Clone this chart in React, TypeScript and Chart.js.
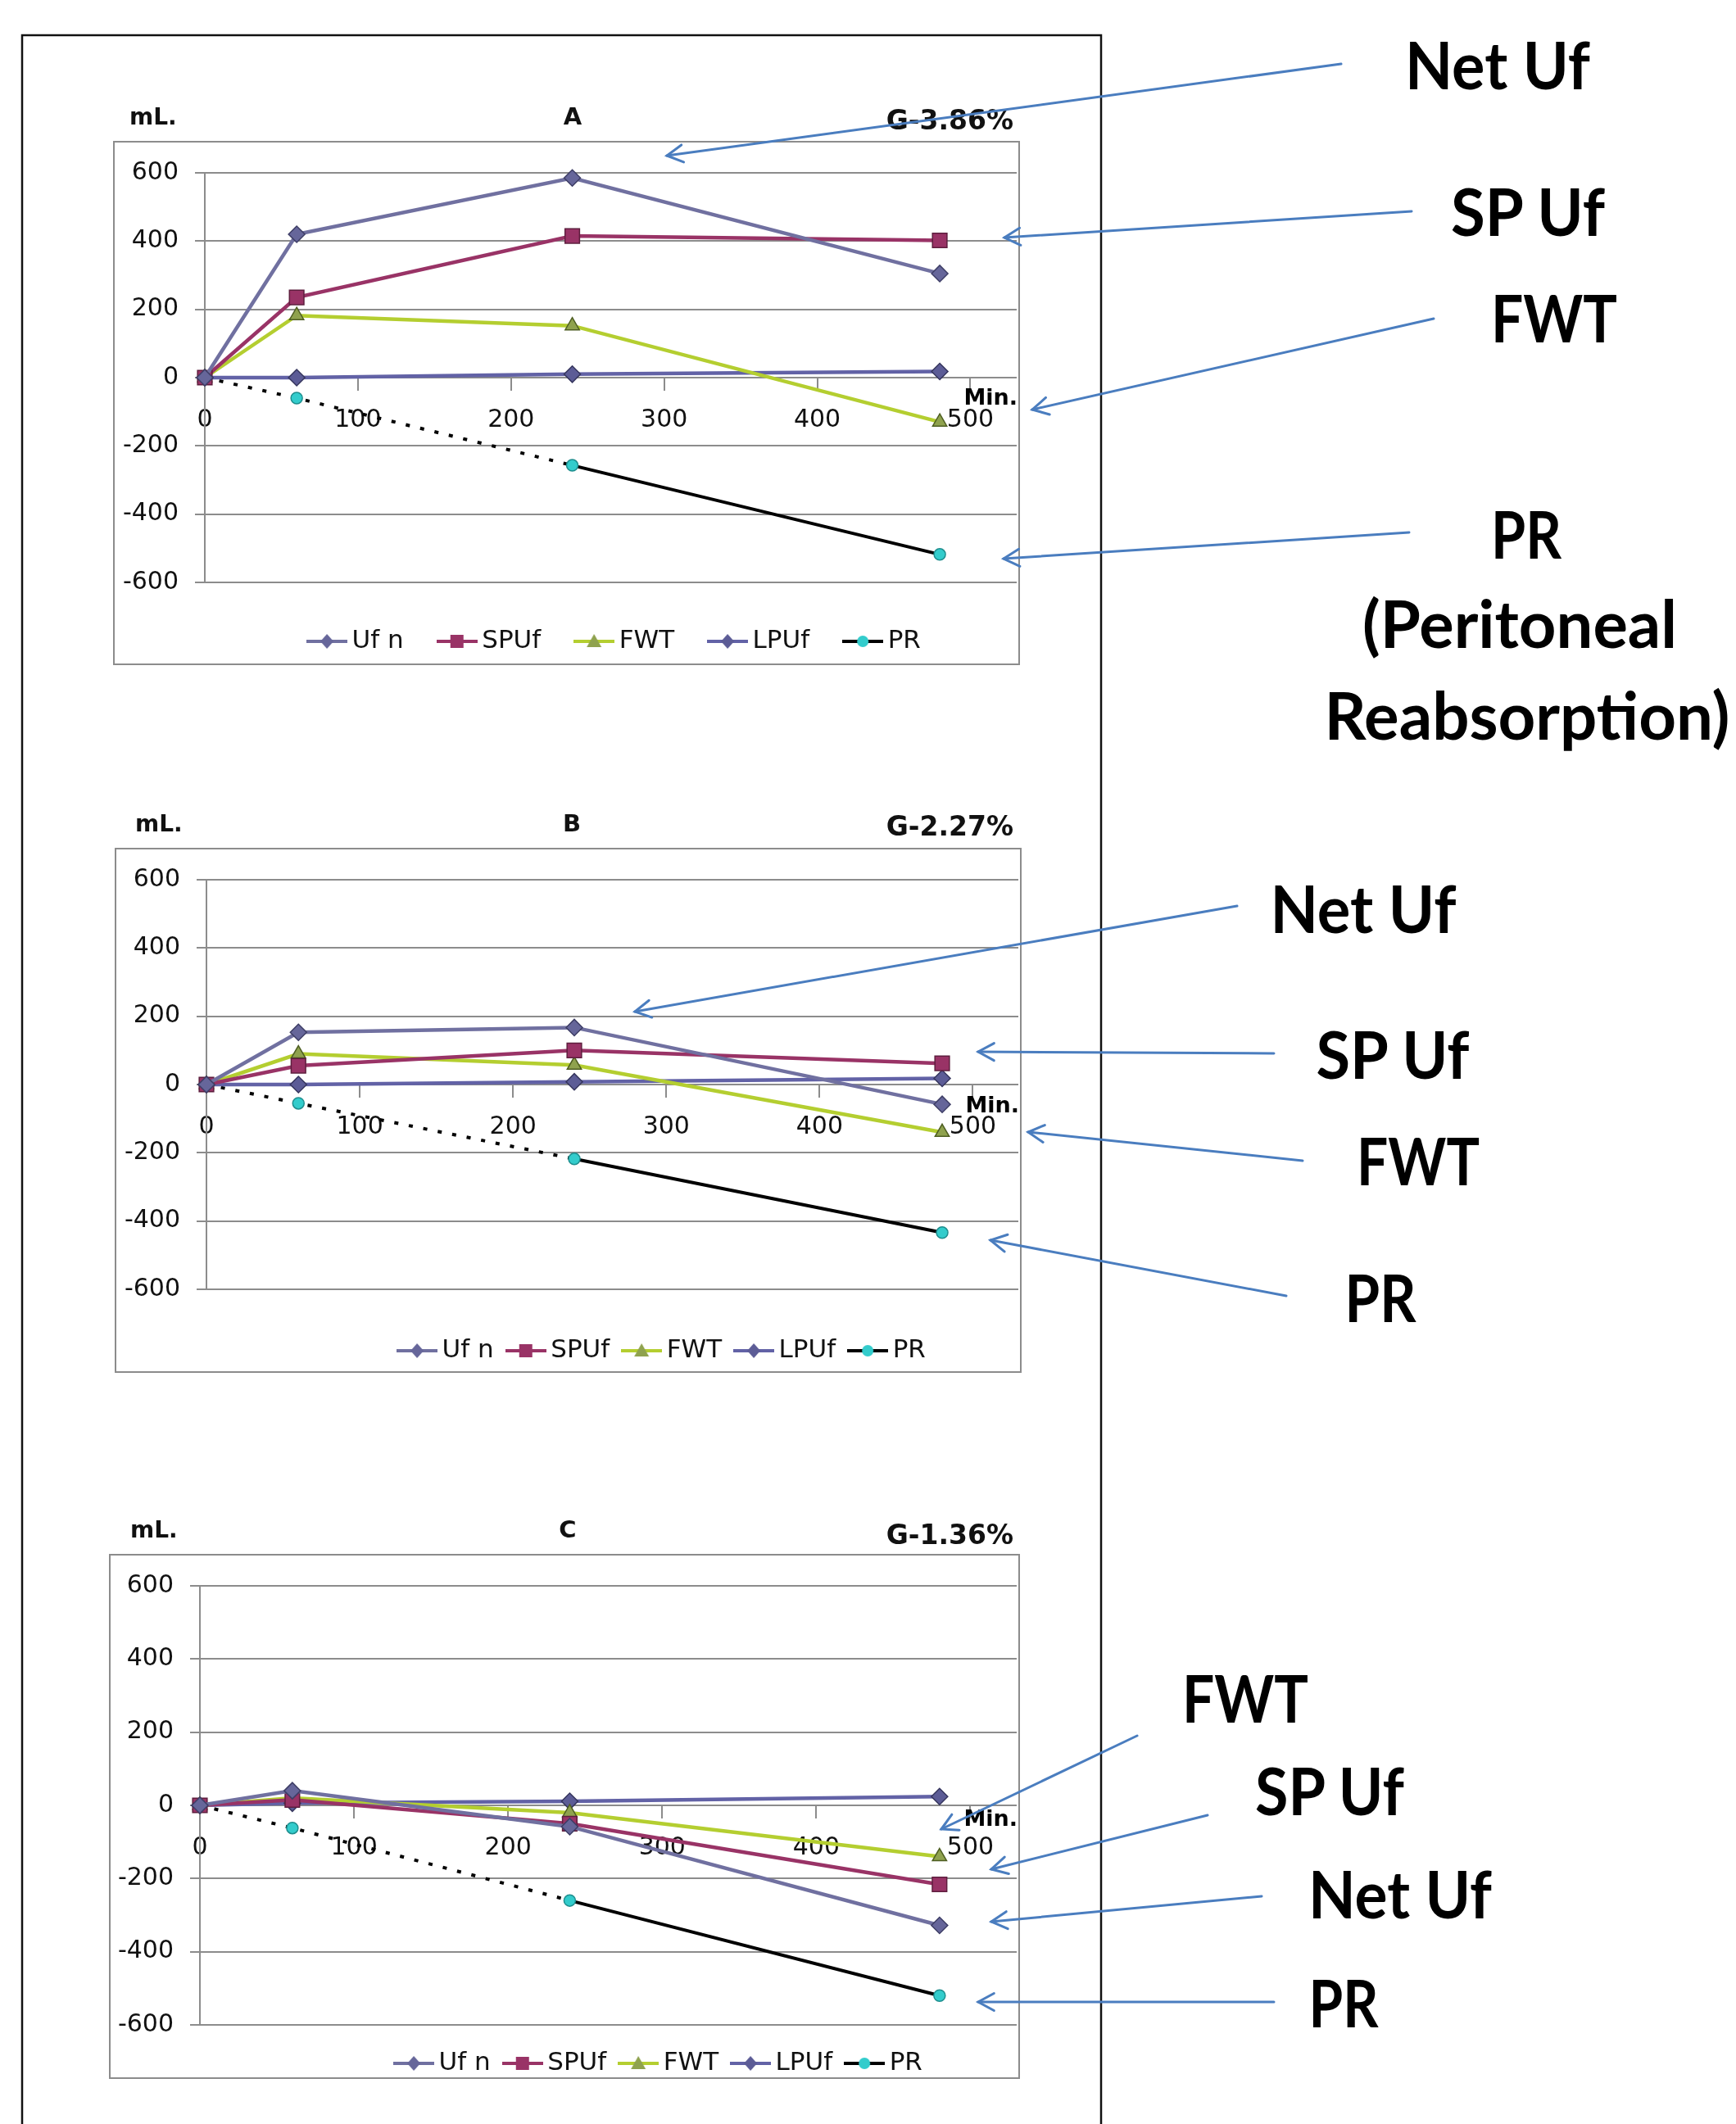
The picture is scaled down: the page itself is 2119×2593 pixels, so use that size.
import React, { useEffect, useRef } from 'react';
import { Chart, registerables } from 'chart.js';

Chart.register(...registerables);

// ---------- data ----------
const minutes = [0, 60, 240, 480];
const seriesLabels = ['Uf n', 'SPUf', 'FWT', 'LPUf', 'PR'];
const yTicks = [-600, -400, -200, 0, 200, 400, 600];
const xTicks = [0, 100, 200, 300, 400, 500];

// Panel A  (G-3.86%)
const ufnA = [0, 420, 585, 305];
const spufA = [0, 235, 415, 402];
const fwtA = [0, 182, 152, -130];
const lpufA = [0, 0, 10, 18];
const prA = [0, -60, -257, -518];

// Panel B  (G-2.27%)
const ufnB = [0, 153, 167, -58];
const spufB = [0, 55, 100, 62];
const fwtB = [0, 90, 57, -140];
const lpufB = [0, 0, 8, 18];
const prB = [0, -55, -218, -434];

// Panel C  (G-1.36%)
const ufnC = [0, 40, -58, -328];
const spufC = [0, 15, -50, -216];
const fwtC = [0, 20, -20, -140];
const lpufC = [0, 6, 11, 24];
const prC = [0, -62, -260, -520];

// ---------- styles ----------
const seriesColors = ['#7070A0', '#993366', '#B4CE30', '#6262A6', '#000000'];
const markerColors = ['#66669A', '#993366', '#8FA24E', '#5C5C96', '#33CCCC'];
const markerBorders = ['#3E3E66', '#5E1E3E', '#4E5E22', '#36365E', '#1E8E8E'];
const markerStyles = ['rectRot', 'rect', 'triangle', 'rectRot', 'circle'];
const markerRadii = [10, 12.5, 10, 10, 7];
const lineWidths = [4.5, 4.5, 4.5, 4.5, 4];

type Panel = {
  letter: string;
  conc: string;
  values: number[][];
  box: number[];
  axisX: number;
  x500: number;
  yTop: number;
  yBottom: number;
  legendY: number;
  legendCX: number;
  legendPad: number;
  minDy: number;
  titleBase: number;
  concBase: number;
  mlX: number;
  letterX: number;
};

const panels: Panel[] = [
  {
    letter: 'A', conc: 'G-3.86%', values: [ufnA, spufA, fwtA, lpufA, prA],
    box: [139, 173, 1244, 811], axisX: 250, x500: 1192, yTop: 208, yBottom: 711,
    legendY: 783, legendCX: 754, legendPad: 50, minDy: 13,
    titleBase: 152, concBase: 158, mlX: 158, letterX: 699,
  },
  {
    letter: 'B', conc: 'G-2.27%', values: [ufnB, spufB, fwtB, lpufB, prB],
    box: [141, 1036, 1246, 1675], axisX: 252, x500: 1195, yTop: 1069, yBottom: 1574,
    legendY: 1649, legendCX: 812, legendPad: 24, minDy: 14,
    titleBase: 1015, concBase: 1020, mlX: 165, letterX: 698,
  },
  {
    letter: 'C', conc: 'G-1.36%', values: [ufnC, spufC, fwtC, lpufC, prC],
    box: [134, 1898, 1244, 2537], axisX: 244, x500: 1192, yTop: 1927, yBottom: 2472,
    legendY: 2519, legendCX: 808, legendPad: 24, minDy: 5,
    titleBase: 1877, concBase: 1885, mlX: 159, letterX: 693,
  },
];

// annotation texts and arrows (figure overlay)
const notes: [string, number, number, number][] = [
  ['Net Uf', 1828, 109, 226], ['SP Uf', 1865, 288, 188], ['FWT', 1897, 418, 154], ['PR', 1863, 682, 86],
  ['(Peritoneal', 1855, 791, 384], ['Reabsorption)', 1864, 903, 495],
  ['Net Uf', 1664, 1139, 227], ['SP Uf', 1700, 1317, 187], ['FWT', 1731, 1447, 150], ['PR', 1685, 1614, 87],
  ['FWT', 1520, 2103, 154], ['SP Uf', 1623, 2216, 182], ['Net Uf', 1709, 2342, 224], ['PR', 1640, 2475, 85],
];
const arrows: number[][] = [
  [1637, 78, 814, 190], [1723, 258, 1226, 290], [1750, 389, 1260, 500], [1720, 650, 1225, 682],
  [1510, 1106, 775, 1235], [1555, 1286, 1194, 1284], [1590, 1417, 1255, 1382], [1570, 1582, 1209, 1514],
  [1388, 2119, 1149, 2233], [1474, 2216, 1210, 2282], [1540, 2315, 1210, 2346], [1555, 2444, 1194, 2444],
];

const LEGEND_FONT = 31;

function makeLegendImage(i: number): HTMLCanvasElement {
  const c = document.createElement('canvas');
  c.width = 50;
  c.height = 26;
  const g = c.getContext('2d')!;
  const cx = 25, cy = 13;
  g.strokeStyle = seriesColors[i];
  g.lineWidth = 4;
  g.beginPath();
  g.moveTo(0, cy);
  g.lineTo(50, cy);
  g.stroke();
  g.fillStyle = markerColors[i];
  g.beginPath();
  const s = markerStyles[i];
  if (s === 'rectRot') {
    g.moveTo(cx, cy - 9); g.lineTo(cx + 8, cy); g.lineTo(cx, cy + 9); g.lineTo(cx - 8, cy); g.closePath();
  } else if (s === 'rect') {
    g.rect(cx - 8, cy - 8, 16, 16);
  } else if (s === 'triangle') {
    g.moveTo(cx, cy - 9); g.lineTo(cx + 9, cy + 7); g.lineTo(cx - 9, cy + 7); g.closePath();
  } else {
    g.arc(cx, cy, 7, 0, Math.PI * 2);
  }
  g.fill();
  return c;
}

function ChartPanel({ p }: { p: Panel }) {
  const ref = useRef<HTMLCanvasElement>(null);
  const [bx0, by0, bx1] = p.box;
  const areaRight = bx1 + 5;
  const canvasW = areaRight + 6 - bx0;
  const padTop = p.yTop - by0;
  const areaBottom = p.yBottom - by0;
  const titleH = Math.max(1, p.legendY - p.yBottom - p.legendPad - LEGEND_FONT / 2);
  const legendH = titleH + LEGEND_FONT + p.legendPad + 10;
  const canvasH = Math.ceil(areaBottom + legendH);
  const padBottom = canvasH - areaBottom - legendH;
  const xMax = (500 * (areaRight - p.axisX)) / (p.x500 - p.axisX);

  useEffect(() => {
    if (!ref.current) return;
    const legendImgs = seriesLabels.map((_, i) => makeLegendImage(i));
    const gridColor = '#8c8c8c';
    const chart = new Chart(ref.current, {
      type: 'line',
      data: {
        datasets: p.values.map((vals, i) => ({
          label: seriesLabels[i],
          data: minutes.map((m, j) => ({ x: m, y: vals[j] })),
          borderColor: seriesColors[i],
          backgroundColor: markerColors[i],
          borderWidth: lineWidths[i],
          pointStyle: markerStyles[i] as any,
          pointRadius: markerRadii[i],
          pointBackgroundColor: markerColors[i],
          pointBorderColor: markerBorders[i],
          pointBorderWidth: 1.5,
          tension: 0,
          fill: false,
          clip: false as any,
          segment:
            i === 4
              ? { borderDash: (c: any) => (c.p0DataIndex < 2 ? [5, 13] : undefined) }
              : undefined,
        })),
      },
      options: {
        animation: false,
        responsive: false,
        maintainAspectRatio: false,
        events: [],
        layout: { padding: { top: padTop, right: canvasW - (areaRight - bx0), bottom: padBottom, left: 0 } },
        scales: {
          x: {
            type: 'linear',
            position: { y: 0 } as any,
            min: 0,
            max: xMax,
            bounds: 'data',
            afterBuildTicks: (s: any) => {
              s.ticks = xTicks.map((v) => ({ value: v }));
            },
            afterFit: (s: any) => {
              s.paddingLeft = 0;
              s.paddingRight = 0;
            },
            ticks: {
              font: { family: 'DejaVu Sans', size: 30 },
              color: '#111',
              padding: 18,
              maxRotation: 0,
              autoSkip: false,
            },
            grid: { drawOnChartArea: false, drawTicks: true, tickLength: 16, color: gridColor, lineWidth: 2 },
            border: { display: false },
          },
          y: {
            type: 'linear',
            position: 'left',
            min: yTicks[0],
            max: yTicks[yTicks.length - 1],
            afterBuildTicks: (s: any) => {
              s.ticks = yTicks.map((v) => ({ value: v }));
            },
            afterFit: (s: any) => {
              s.width = p.axisX - bx0;
            },
            ticks: { font: { family: 'DejaVu Sans', size: 30 }, color: '#111', padding: 20 },
            grid: { color: gridColor, lineWidth: 2, tickLength: 12, drawTicks: true },
            border: { display: true, color: gridColor, width: 2 },
          },
        },
        plugins: {
          tooltip: { enabled: false },
          legend: {
            position: 'bottom',
            fullSize: false,
            align: 'center',
            title: {
              display: true,
              text: '',
              font: { size: 1, lineHeight: 1 },
              padding: { top: titleH - 1, bottom: 0 },
            },
            labels: {
              usePointStyle: true,
              pointStyleWidth: 30,
              padding: p.legendPad,
              font: { family: 'DejaVu Sans', size: LEGEND_FONT },
              color: '#111',
              generateLabels: () =>
                seriesLabels.map((t, i) => ({
                  text: t,
                  pointStyle: legendImgs[i] as any,
                  fillStyle: 'rgba(0,0,0,0)',
                  strokeStyle: 'rgba(0,0,0,0)',
                  lineWidth: 0,
                  hidden: false,
                  datasetIndex: i,
                  fontColor: '#111',
                })),
            },
          },
        },
      },
      plugins: [
        {
          id: 'legendShift',
          beforeDraw(chart: any) {
            const lg = chart.legend;
            if (!lg) return;
            const center = (lg.left + lg.right) / 2;
            const dx = p.legendCX - bx0 - center;
            lg.left += dx;
            lg.right += dx;
          },
        },
        {
          id: 'minLabel',
          afterDraw(chart: any) {
            const { ctx, chartArea, scales } = chart;
            const y0 = scales.y.getPixelForValue(0);
            ctx.save();
            ctx.font = 'bold 27px "DejaVu Sans"';
            ctx.fillStyle = '#000';
            ctx.textAlign = 'right';
            ctx.textBaseline = 'alphabetic';
            ctx.fillText('Min.', chartArea.right + 1, y0 + p.minDy + 20);
            ctx.restore();
          },
        },
      ],
    } as any);
    return () => chart.destroy();
  }, []);

  return (
    <canvas
      ref={ref}
      width={canvasW}
      height={canvasH}
      style={{ position: 'absolute', left: bx0, top: by0, width: canvasW, height: canvasH }}
    />
  );
}

function Arrow({ a }: { a: number[] }) {
  const [x1, y1, x2, y2] = a;
  const ang = Math.atan2(y1 - y2, x1 - x2);
  const L = 22;
  const spread = 0.5;
  const p1 = [x2 + L * Math.cos(ang + spread), y2 + L * Math.sin(ang + spread)];
  const p2 = [x2 + L * Math.cos(ang - spread), y2 + L * Math.sin(ang - spread)];
  return (
    <g stroke="#4A7DBF" strokeWidth={3} fill="none" strokeLinecap="round">
      <line x1={x1} y1={y1} x2={x2} y2={y2} />
      <polyline points={`${p1[0]},${p1[1]} ${x2},${y2} ${p2[0]},${p2[1]}`} />
    </g>
  );
}

export default function App() {
  return (
    <div
      style={{
        position: 'absolute',
        left: 0,
        top: 0,
        width: 2119,
        height: 2593,
        overflow: 'hidden',
        background: '#ffffff',
      }}
    >
      {panels.map((p) => (
        <ChartPanel key={p.letter} p={p} />
      ))}
      <svg
        width={2119}
        height={2593}
        style={{ position: 'absolute', left: 0, top: 0, pointerEvents: 'none' }}
      >
        <rect x={27} y={43} width={1317} height={2620} fill="none" stroke="#111" strokeWidth={2.5} />
        {panels.map((p) => (
          <g key={p.letter}>
            <rect
              x={p.box[0]}
              y={p.box[1]}
              width={p.box[2] - p.box[0]}
              height={p.box[3] - p.box[1]}
              fill="none"
              stroke="#8c8c8c"
              strokeWidth={2}
            />
            <text x={p.mlX} y={p.titleBase} fontFamily="DejaVu Sans" fontWeight="bold" fontSize={28} fill="#111">
              mL.
            </text>
            <text x={p.letterX} y={p.titleBase} textAnchor="middle" fontFamily="DejaVu Sans" fontWeight="bold" fontSize={29} fill="#111">
              {p.letter}
            </text>
            <text x={1237} y={p.concBase} textAnchor="end" fontFamily="DejaVu Sans" fontWeight="bold" fontSize={33} fill="#111">
              {p.conc}
            </text>
          </g>
        ))}
        {arrows.map((a, i) => (
          <Arrow key={i} a={a} />
        ))}
        {notes.map(([t, x, y, w], i) => (
          <text
            key={i}
            x={x}
            y={y}
            textAnchor="middle"
            fontFamily="Lato"
            fontWeight="bold"
            fontSize={80}
            textLength={w}
            lengthAdjust="spacingAndGlyphs"
            fill="#000"
          >
            {t}
          </text>
        ))}
      </svg>
    </div>
  );
}
